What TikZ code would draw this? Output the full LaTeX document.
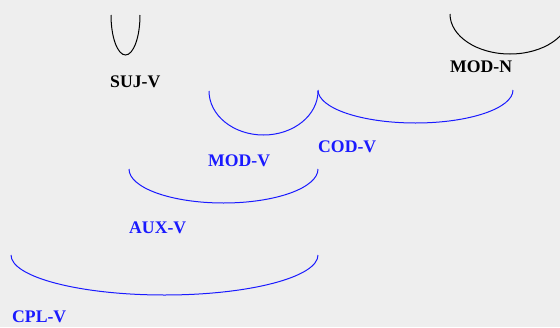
\documentclass[tikz,border=0pt]{standalone}
\usepackage{fontspec}
\setmainfont{Liberation Serif}
\definecolor{bggray}{HTML}{EEEEEE}
\definecolor{arcblue}{HTML}{1A1AFF}
\tikzset{
  deparc/.style={line width=1pt},
  deplabel/.style={anchor=base west, inner sep=0pt, text depth=0pt, font=\fontsize{17.7}{20}\selectfont\bfseries},
}
\begin{document}
\begin{tikzpicture}[x=1pt, y=-1pt]
            \fill[bggray] (0, 0) rectangle (560, 327);
            \useasboundingbox (0, 0) rectangle (560, 327);
            \clip (0, 0) rectangle (560, 327);

            \coordinate (suj) at (111, 15);
            \coordinate (modn) at (450, 14);
            \coordinate (modv) at (209, 91);
            \coordinate (codv) at (318, 90);
            \coordinate (auxv) at (129, 169);
            \coordinate (cplv) at (11, 255);

            \draw[deparc, black] (suj) arc[start angle=180, end angle=360, x radius=14.5pt, y radius=40pt];
            \draw[deparc, black] (modn) arc[start angle=180, end angle=360, x radius=60pt, y radius=40pt];
            \draw[deparc, arcblue] (modv) arc[start angle=180, end angle=360, x radius=54.5pt, y radius=44pt];
            \draw[deparc, arcblue] (codv) arc[start angle=180, end angle=360, x radius=97.5pt, y radius=33pt];
            \draw[deparc, arcblue] (auxv) arc[start angle=180, end angle=360, x radius=94.5pt, y radius=34pt];
            \draw[deparc, arcblue] (cplv) arc[start angle=180, end angle=360, x radius=153.5pt, y radius=40pt];

            \node[deplabel, black] (lblsuj) at (110, 87) {SUJ-V};
            \node[deplabel, black] (lblmodn) at (450, 72) {MOD-N};
            \node[deplabel, arcblue] (lblmodv) at (208, 166) {MOD-V};
            \node[deplabel, arcblue] (lblcodv) at (318, 152) {COD-V};
            \node[deplabel, arcblue] (lblauxv) at (129, 233) {AUX-V};
            \node[deplabel, arcblue] (lblcplv) at (12, 322) {CPL-V};
\end{tikzpicture}
\end{document}
